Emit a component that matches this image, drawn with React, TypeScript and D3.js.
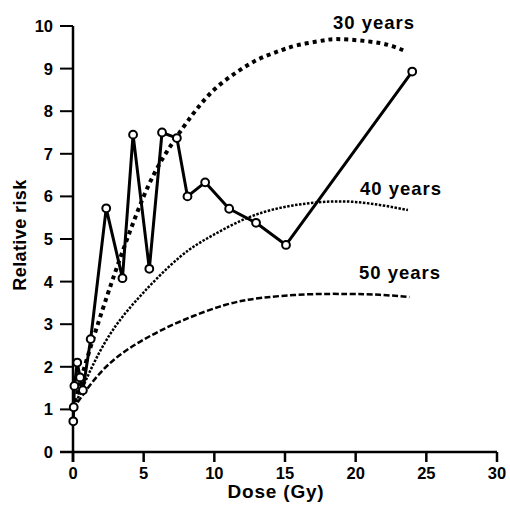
import React from "react";
import * as d3 from "d3";

// observed relative risk by dose (Gy)
const obsDose = [0.02, 0.05, 0.1, 0.3, 0.5, 0.7, 1.25, 2.35, 3.5, 4.25, 5.4, 6.3, 7.35, 8.1, 9.35, 11.05, 12.95, 15.07, 24.0];
const obsRisk = [0.72, 1.05, 1.55, 2.1, 1.75, 1.45, 2.65, 5.72, 4.08, 7.45, 4.3, 7.5, 7.37, 6.0, 6.33, 5.71, 5.38, 4.86, 8.93];

// fitted curves
const dose30 = [0, 1, 2.4, 3.5, 5, 6.4, 7.8, 9, 10.2, 11.6, 13, 14.4, 15.9, 17.7, 19, 21.7, 23.5];
const risk30 = [1.0, 2.2, 3.65, 4.7, 6.0, 6.92, 7.62, 8.15, 8.57, 8.92, 9.2, 9.39, 9.55, 9.66, 9.69, 9.6, 9.41];
const dose40 = [0, 1.5, 3, 4.95, 7.57, 9.9, 12.3, 14.65, 17, 19.4, 21.7, 23.7];
const risk40 = [1.0, 2.1, 2.95, 3.73, 4.58, 5.09, 5.49, 5.73, 5.85, 5.88, 5.8, 5.68];
const dose50 = [0, 0.85, 2.5, 4.9, 7.7, 10.75, 13.4, 16.5, 19.4, 21.7, 23.8];
const risk50 = [1.0, 1.41, 2.05, 2.62, 3.08, 3.45, 3.62, 3.7, 3.71, 3.69, 3.64];

const xTicks = [0, 5, 10, 15, 20, 25, 30];
const yTicks = [0, 1, 2, 3, 4, 5, 6, 7, 8, 9, 10];

const font = "'Liberation Sans', Arial, sans-serif";

export default function App() {
  const x = d3.scaleLinear().domain([0, 30]).range([73, 497]);
  const y = d3.scaleLinear().domain([0, 10]).range([452, 26]);

  const toPts = (xs: number[], ys: number[]) => xs.map((d, i) => [d, ys[i]] as [number, number]);
  const smooth = d3
    .line<[number, number]>()
    .x((d) => x(d[0]))
    .y((d) => y(d[1]))
    .curve(d3.curveNatural);
  const straight = d3
    .line<[number, number]>()
    .x((d) => x(d[0]))
    .y((d) => y(d[1]));

  const obs = toPts(obsDose, obsRisk);

  return (
    <svg width={510} height={511} style={{ position: "absolute", left: 0, top: 0, background: "#fff" }}>
      {/* axes */}
      <line x1={x(0)} x2={x(0)} y1={y(0) + 10} y2={y(10)} stroke="#000" strokeWidth={2.5} />
      <line x1={x(0) - 13} x2={x(30)} y1={y(0)} y2={y(0)} stroke="#000" strokeWidth={2.5} />
      {yTicks.map((t) => (
        <g key={"y" + t}>
          <line x1={x(0) - 13} x2={x(0)} y1={y(t)} y2={y(t)} stroke="#000" strokeWidth={2} />
          <text x={53} y={y(t)} dy="0.36em" textAnchor="end" fontFamily={font} fontWeight="bold" fontSize={16.5}>
            {t}
          </text>
        </g>
      ))}
      {xTicks.map((t) => (
        <g key={"x" + t}>
          <line x1={x(t)} x2={x(t)} y1={y(0)} y2={y(0) + 10} stroke="#000" strokeWidth={2.5} />
          <text x={x(t)} y={479} textAnchor="middle" fontFamily={font} fontWeight="bold" fontSize={16.5}>
            {t}
          </text>
        </g>
      ))}
      <text x={276} y={498} textAnchor="middle" fontFamily={font} fontWeight="bold" fontSize={19} letterSpacing={0.8}>
        Dose (Gy)
      </text>
      <text
        transform="translate(26,235) rotate(-90)"
        textAnchor="middle"
        fontFamily={font}
        fontWeight="bold"
        fontSize={18}
        letterSpacing={0.4}
      >
        Relative risk
      </text>

      {/* fitted curves */}
      <path d={smooth(toPts(dose30, risk30)) || ""} fill="none" stroke="#000" strokeWidth={4} strokeDasharray="4 4" />
      <path d={smooth(toPts(dose40, risk40)) || ""} fill="none" stroke="#000" strokeWidth={2.5} strokeDasharray="2.5 1.5" />
      <path d={smooth(toPts(dose50, risk50)) || ""} fill="none" stroke="#000" strokeWidth={2.5} strokeDasharray="6 2.5" />

      {/* observed */}
      <path d={straight(obs) || ""} fill="none" stroke="#000" strokeWidth={3} strokeLinejoin="round" />
      {obs.map((d, i) => (
        <circle key={i} cx={x(d[0])} cy={y(d[1])} r={3.9} fill="#fff" stroke="#000" strokeWidth={2} />
      ))}

      {/* labels */}
      <text x={333} y={29} fontFamily={font} fontWeight="bold" fontSize={18.5} letterSpacing={1}>
        30 years
      </text>
      <text x={360} y={195} fontFamily={font} fontWeight="bold" fontSize={18.5} letterSpacing={1}>
        40 years
      </text>
      <text x={359} y={279} fontFamily={font} fontWeight="bold" fontSize={18.5} letterSpacing={1}>
        50 years
      </text>
    </svg>
  );
}
